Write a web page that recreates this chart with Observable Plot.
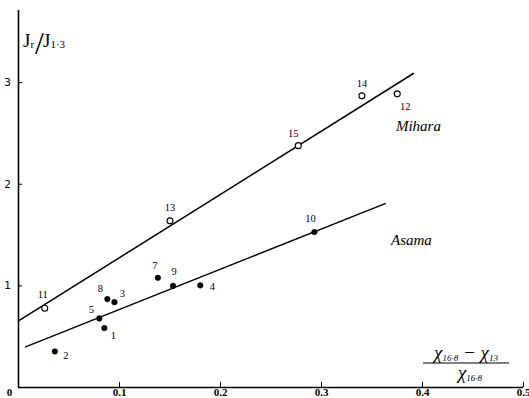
<!DOCTYPE html>
<html>
<head>
<meta charset="utf-8">
<script src="https://cdn.jsdelivr.net/npm/d3@7"></script>
<script src="https://cdn.jsdelivr.net/npm/@observablehq/plot@0.6"></script>
<style>
  html, body { margin: 0; padding: 0; background: #fff; }
  #chart svg { display: block; }
</style>
</head>
<body>
<div id="chart"></div>
<script>
// ---- data ----
const miharaId = [11, 13, 15, 14, 12];
const miharaX  = [0.026, 0.150, 0.277, 0.340, 0.375];
const miharaY  = [0.78, 1.64, 2.38, 2.87, 2.89];

const asamaId = [2, 5, 1, 8, 3, 7, 9, 4, 10];
const asamaX  = [0.036, 0.080, 0.085, 0.088, 0.095, 0.138, 0.153, 0.180, 0.293];
const asamaY  = [0.355, 0.68, 0.585, 0.87, 0.84, 1.08, 1.00, 1.005, 1.53];

const miharaFitX = [0.0, 0.391];
const miharaFitY = [0.655, 3.09];
const asamaFitX  = [0.007, 0.363];
const asamaFitY  = [0.40, 1.81];

const xTicks = [0.1, 0.2, 0.3, 0.4, 0.5];
const xTickLabels = ["0.1", "0.2", "0.3", "0.4", "0.5"];
const yTicks = [1, 2, 3];
const yTickLabels = ["1", "2", "3"];

const seriesNames = ["Mihara", "Asama"];
const seriesNameX = [0.396, 0.389];
const seriesNameY = [2.57, 1.45];

// label offsets (pixels) for the point numbers
const labelOffset = {
  11: [-2, -14], 13: [0, -13], 15: [-5, -12], 14: [0, -12], 12: [8, 13],
  2: [11, 4], 5: [-8, -9], 1: [9, 8], 8: [-7, -10], 3: [8, -9],
  7: [-3, -12], 9: [1, -14], 4: [12, 1], 10: [-4, -13]
};

const mihara = miharaId.map((id, i) => ({id, x: miharaX[i], y: miharaY[i]}));
const asama  = asamaId.map((id, i) => ({id, x: asamaX[i], y: asamaY[i]}));
const miharaFit = miharaFitX.map((x, i) => ({x, y: miharaFitY[i]}));
const asamaFit  = asamaFitX.map((x, i) => ({x, y: asamaFitY[i]}));
const xt = xTicks.map((v, i) => ({v, label: xTickLabels[i]}));
const yt = yTicks.map((v, i) => ({v, label: yTickLabels[i]}));
const names = seriesNames.map((n, i) => ({n, x: seriesNameX[i], y: seriesNameY[i]}));

const serif = "'Liberation Serif', 'DejaVu Serif', serif";

const marks = [
  Plot.ruleX([0], {stroke: "black", strokeWidth: 1.6}),
  Plot.ruleY([0], {stroke: "black", strokeWidth: 1.4}),
  Plot.ruleX(xt, {x: "v", y1: 0, y2: 0.05, stroke: "black", strokeWidth: 1}),
  Plot.ruleY(yt, {y: "v", x1: 0, x2: 0.004, stroke: "black", strokeWidth: 1}),
  Plot.text(xt, {x: "v", y: 0, text: "label", dy: 1, lineAnchor: "top", fontSize: 11, fontWeight: "bold", fontFamily: serif}),
  Plot.text(["0"], {x: 0, y: 0, text: d => d, dx: -9, dy: 1, lineAnchor: "top", fontSize: 11, fontWeight: "bold", fontFamily: serif}),
  Plot.text(yt, {x: 0, y: "v", text: "label", dx: -11, fontSize: 10.5, fontFamily: "'DejaVu Sans', sans-serif"}),
  Plot.line(miharaFit, {x: "x", y: "y", stroke: "black", strokeWidth: 1.5}),
  Plot.line(asamaFit, {x: "x", y: "y", stroke: "black", strokeWidth: 1.5}),
  Plot.dot(mihara, {x: "x", y: "y", r: 3, fill: "white", stroke: "black", strokeWidth: 1.1}),
  Plot.dot(asama, {x: "x", y: "y", r: 2.8, fill: "black", stroke: "black", strokeWidth: 0.5}),
  Plot.text(names, {x: "x", y: "y", text: "n", fontSize: 15, fontStyle: "italic", fontFamily: serif, letterSpacing: "1px"})
];

for (const p of [...mihara, ...asama]) {
  const [dx, dy] = labelOffset[p.id] || [0, -12];
  marks.push(Plot.text([p], {x: "x", y: "y", text: d => String(d.id), dx, dy, fontSize: 10.5, fontFamily: serif, fill: "black"}));
}

const chart = Plot.plot({
  width: 529,
  height: 398,
  marginLeft: 18,
  marginRight: 6,
  marginTop: 10,
  marginBottom: 11,
  x: {domain: [0, 0.5], axis: null},
  y: {domain: [0, 3.71], axis: null},
  style: {background: "white", overflow: "visible"},
  marks
});

// axis titles as real text
const svg = d3.select(chart);
const yTitle = svg.append("text")
  .attr("x", 23).attr("y", 47).attr("text-anchor", "start")
  .attr("font-family", serif).attr("font-size", 19).attr("fill", "black");
yTitle.append("tspan").text("J");
yTitle.append("tspan").attr("font-size", 11).attr("dy", 1).text("r");
yTitle.append("tspan").attr("font-size", 32).attr("font-weight", 300).attr("dy", 6).attr("dx", 1).text("/");
yTitle.append("tspan").attr("font-size", 19).attr("dy", -7).attr("dx", -1).text("J");
yTitle.append("tspan").attr("font-size", 11).attr("dy", 1).text("1·3");

const num = svg.append("text")
  .attr("x", 466).attr("y", 359).attr("text-anchor", "middle")
  .attr("font-family", serif).attr("font-size", 19).attr("font-style", "italic").attr("fill", "black");
num.append("tspan").text("χ");
num.append("tspan").attr("font-size", 9).attr("dy", 2).text("16·8");
num.append("tspan").attr("dy", -2).text(" − χ");
num.append("tspan").attr("font-size", 9).attr("dy", 2).text("13");

svg.append("line")
  .attr("x1", 423).attr("x2", 509).attr("y1", 363).attr("y2", 363)
  .attr("stroke", "black").attr("stroke-width", 1.2);

const den = svg.append("text")
  .attr("x", 470).attr("y", 379).attr("text-anchor", "middle")
  .attr("font-family", serif).attr("font-size", 19).attr("font-style", "italic").attr("fill", "black");
den.append("tspan").text("χ");
den.append("tspan").attr("font-size", 9).attr("dy", 2).text("16·8");

document.getElementById("chart").appendChild(chart);
</script>
</body>
</html>
